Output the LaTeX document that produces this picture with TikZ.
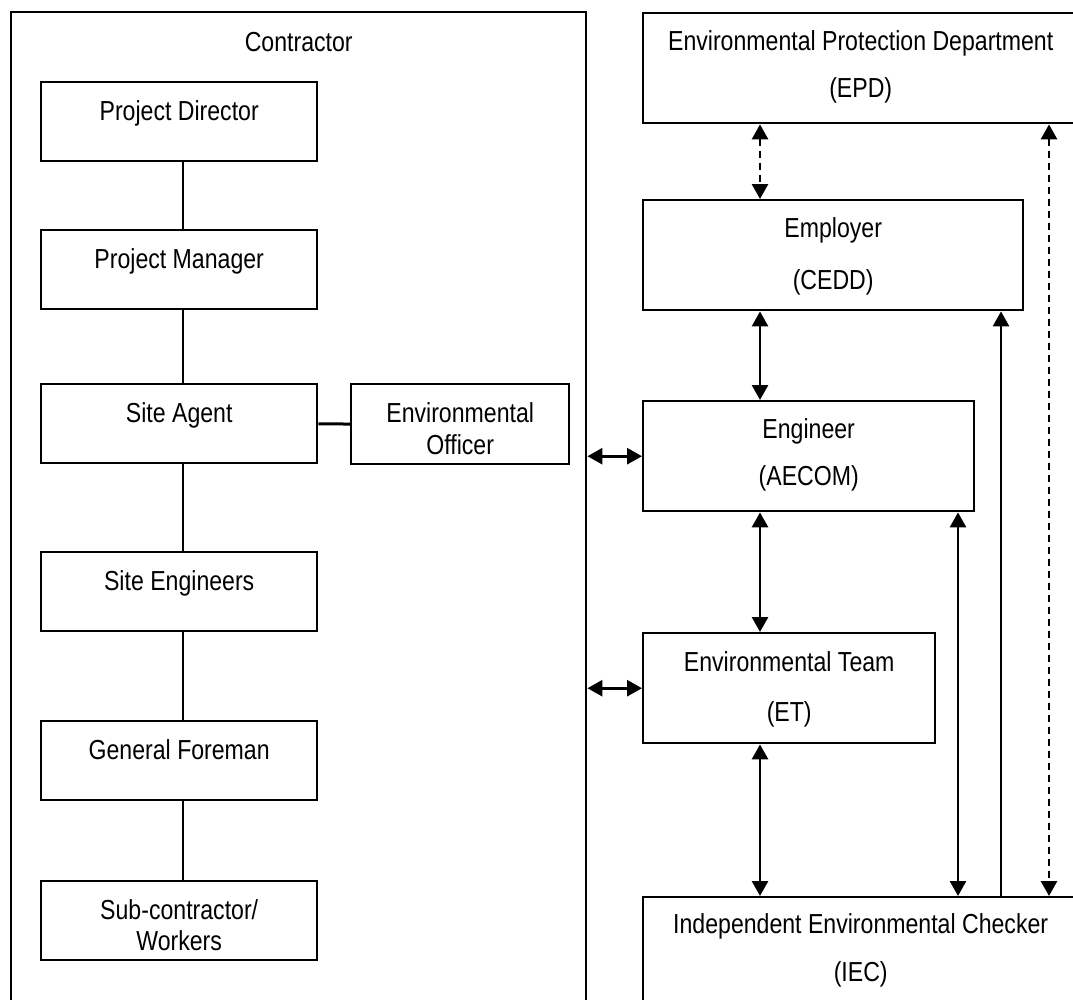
\documentclass[tikz,border=0pt]{standalone}
\usepackage{fontspec}
\setmainfont{Liberation Sans}[FakeStretch=0.84]
\usetikzlibrary{arrows.meta}

\begin{document}
\begin{tikzpicture}[x=1pt,y=-1pt,>={Triangle[length=15pt,width=16pt]},
  every node/.style={draw,line width=2.4pt,inner sep=0pt,anchor=north west,align=center,font=\fontsize{27.5}{32}\selectfont},
  lbox/.style={minimum width=276pt,minimum height=79pt,text height=38pt,text depth=41pt},
  rbox/.style={minimum height=110pt,text height=84pt,text depth=26pt},
  link/.style={line width=2.8pt,<->},
  tie/.style={line width=2pt},
  dashline/.style={dash pattern=on 7pt off 5pt}]
\useasboundingbox (0,0) rectangle (1073,999);
\clip (0,0) rectangle (1073,999);
% contractor side
\node[minimum width=575pt,minimum height=1000pt,text height=39pt,text depth=961pt] (con) at (10,11) {Contractor};
\node[lbox] (pd) at (40,81) {Project Director};
\node[lbox] (pm) at (40,229) {Project Manager};
\node[lbox] (sa) at (40,383) {Site Agent};
\node[lbox] (se) at (40,551) {Site Engineers};
\node[lbox] (gf) at (40,720) {General Foreman};
\node[lbox,text height=69pt,text depth=10pt] (sw) at (40,880) {Sub-contractor/\\[-1pt]Workers};
\node[lbox,minimum width=218pt,text height=70pt,text depth=10pt] (eo) at (350,383) {Environmental\\Officer};
\foreach \a/\b in {pd/pm,pm/sa,sa/se,se/gf,gf/sw} \draw[tie] ([xshift=4pt]\a.south) -- ([xshift=4pt]\b.north);
\draw[line width=3pt] (sa) -- (eo);
% parties
\node[rbox,minimum width=435pt] (epd) at (642,12) {Environmental Protection Department\\[15pt](EPD)};
\node[rbox,minimum width=380pt,text height=89pt,text depth=21pt] (emp) at (642,199) {Employer\\[20pt](CEDD)};
\node[rbox,minimum width=331pt] (eng) at (642,400) {Engineer\\[15pt](AECOM)};
\node[rbox,minimum width=292pt,text height=88pt,text depth=22pt] (et) at (642,632) {Environmental Team\\[18pt](ET)};
\node[rbox,minimum width=435pt,text height=84pt,text depth=26pt] (iec) at (642,896) {Independent Environmental Checker\\[16pt](IEC)};
\coordinate (s) at (760,0);
\coordinate (ea) at (958,0);
\coordinate (eb) at (1001,0);
\coordinate (ec) at (1049,0);
\draw[link,dashline] (s |- epd.south) -- (s |- emp.north);
\foreach \x/\y in {emp/eng,eng/et,et/iec} \draw[link] (s |- \x.south) -- (s |- \y.north);
\draw[link] (ea |- eng.south) -- (ea |- iec.north);
\draw[line width=2.8pt,->] (eb |- iec.north) -- (eb |- emp.south);
\draw[link,dashline] (ec |- epd.south) -- (ec |- iec.north);
\draw[link] (eng.west -| con.east) -- (eng.west);
\draw[link] (et.west -| con.east) -- (et.west);
\end{tikzpicture}
\end{document}
